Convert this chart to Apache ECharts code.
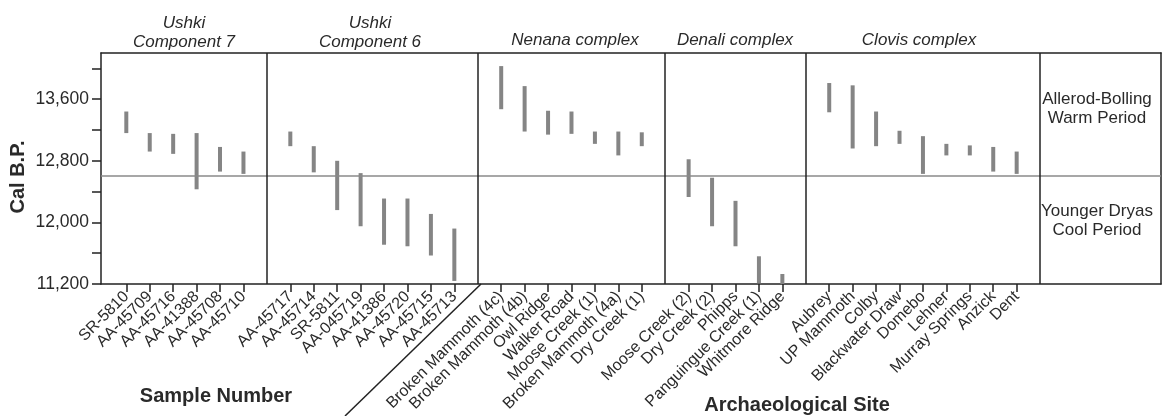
<!DOCTYPE html>
<html>
<head>
<meta charset="utf-8">
<script src="https://cdn.jsdelivr.net/npm/echarts@6/dist/echarts.min.js"></script>
<style>
html,body{margin:0;padding:0;background:#fff;}
#chart{width:1168px;height:416px;}
</style>
</head>
<body>
<div id="chart"></div>
<script>
// ---- data ----
const groupTitles = ['Ushki\nComponent 7', 'Ushki\nComponent 6', 'Nenana complex', 'Denali complex', 'Clovis complex'];

const ushki7Names = ['SR-5810', 'AA-45709', 'AA-45716', 'AA-41388', 'AA-45708', 'AA-45710'];
const ushki7High  = [13440, 13160, 13150, 13160, 12980, 12920];
const ushki7Low   = [13160, 12920, 12890, 12430, 12660, 12630];

const ushki6Names = ['AA-45717', 'AA-45714', 'SR-5811', 'AA-045719', 'AA-41386', 'AA-45720', 'AA-45715', 'AA-45713'];
const ushki6High  = [13180, 12990, 12800, 12640, 12310, 12310, 12110, 11920];
const ushki6Low   = [12990, 12650, 12160, 11950, 11710, 11690, 11570, 11240];

const nenanaNames = ['Broken Mammoth (4c)', 'Broken Mammoth (4b)', 'Owl Ridge', 'Walker Road', 'Moose Creek (1)', 'Broken Mammoth (4a)', 'Dry Creek (1)'];
const nenanaHigh  = [14030, 13770, 13450, 13440, 13180, 13180, 13170];
const nenanaLow   = [13470, 13180, 13140, 13150, 13020, 12870, 12990];

const denaliNames = ['Moose Creek (2)', 'Dry Creek (2)', 'Phipps', 'Panguingue Creek (1)', 'Whitmore Ridge'];
const denaliHigh  = [12820, 12580, 12280, 11560, 11330];
const denaliLow   = [12330, 11950, 11690, 11210, 11200];

const clovisNames = ['Aubrey', 'UP Mammoth', 'Colby', 'Blackwater Draw', 'Domebo', 'Lehner', 'Murray Springs', 'Anzick', 'Dent'];
const clovisHigh  = [13810, 13780, 13440, 13190, 13120, 13020, 13000, 12980, 12920];
const clovisLow   = [13430, 12960, 12990, 13020, 12630, 12870, 12870, 12660, 12630];

const boundaryYear = 12600;
const yTickValues  = [11200, 11600, 12000, 12400, 12800, 13200, 13600, 14000];
const yLabelValues = [11200, 12000, 12800, 13600];
const periodLabels = ['Allerod-Bolling\nWarm Period', 'Younger Dryas\nCool Period'];

// ---- build ----
const groups = [
  [ushki7Names, ushki7High, ushki7Low],
  [ushki6Names, ushki6High, ushki6Low],
  [nenanaNames, nenanaHigh, nenanaLow],
  [denaliNames, denaliHigh, denaliLow],
  [clovisNames, clovisHigh, clovisLow]
];
const rangeData = [];
const slotNames = {};
const slotList = [];
const dividers = [];
let slot = 1;
groups.forEach(([names, hi, lo], g) => {
  if (g > 0) dividers.push(slot - 1);
  names.forEach((n, i) => {
    rangeData.push([slot, lo[i], hi[i]]);
    slotNames[slot] = n;
    slotList.push(slot);
    slot++;
  });
  slot++;
});
dividers.push(slot - 1);

const FONT = '"Liberation Sans", Arial, Helvetica, sans-serif';
const TXT = '#2a2a2a';

const chart = echarts.init(document.getElementById('chart'));
const option = {
  animation: false,
  backgroundColor: '#fff',
  grid: { left: 101, right: 7, top: 53, bottom: 132, show: false },
  xAxis: [{
    type: 'value', min: -0.08, max: 45.16,
    splitLine: { show: false },
    axisLine: { show: true, onZero: false, lineStyle: { color: '#222', width: 1.5 } },
    axisTick: { show: true, customValues: slotList, length: 8, lineStyle: { color: '#222', width: 1.5 } },
    axisLabel: {
      customValues: slotList, rotate: 45, margin: 10,
      fontSize: 16, fontFamily: FONT, color: TXT,
      formatter: v => slotNames[Math.round(v)] || ''
    }
  }, {
    type: 'value', min: -0.08, max: 45.16, position: 'top',
    splitLine: { show: false },
    axisLine: { show: true, onZero: false, lineStyle: { color: '#222', width: 1.5 } },
    axisTick: { show: false }, axisLabel: { show: false }
  }],
  yAxis: [{
    type: 'value', min: 11200, max: 14200,
    splitLine: { show: false },
    axisLine: { show: true, onZero: false, lineStyle: { color: '#222', width: 1.5 } },
    axisTick: { show: true, customValues: yTickValues, length: 9, lineStyle: { color: '#222', width: 1.5 } },
    axisLabel: {
      customValues: yLabelValues, margin: 12, fontSize: 17.5, fontFamily: FONT, color: TXT,
      formatter: v => v.toLocaleString('en-US')
    }
  }, {
    type: 'value', min: 11200, max: 14200, position: 'right',
    splitLine: { show: false },
    axisLine: { show: true, onZero: false, lineStyle: { color: '#222', width: 1.5 } },
    axisTick: { show: false }, axisLabel: { show: false }
  }],
  series: [{
    type: 'custom',
    data: rangeData,
    renderItem: (params, api) => {
      const top = api.coord([api.value(0), api.value(2)]);
      const bot = api.coord([api.value(0), api.value(1)]);
      return { type: 'rect', shape: { x: top[0] - 2, y: top[1], width: 4, height: bot[1] - top[1] }, style: { fill: '#858585' } };
    },
    markLine: {
      silent: true, symbol: 'none', label: { show: false },
      data: [{ yAxis: boundaryYear, lineStyle: { color: '#8a8a8a', width: 1.5, type: 'solid' } }]
        .concat(dividers.map(d => ({ xAxis: d, lineStyle: { color: '#222', width: 1.5, type: 'solid' } })))
    }
  }],
  graphic: [
    { type: 'text', x: 18, y: 177, rotation: Math.PI / 2,
      style: { text: 'Cal B.P.', font: 'bold 20px ' + FONT, fill: TXT, align: 'center', verticalAlign: 'middle' } },
    { type: 'text', x: 216, y: 396, style: { text: 'Sample Number', font: 'bold 20px ' + FONT, fill: TXT, align: 'center', verticalAlign: 'middle' } },
    { type: 'text', x: 797, y: 405, style: { text: 'Archaeological Site', font: 'bold 20px ' + FONT, fill: TXT, align: 'center', verticalAlign: 'middle' } },
    { type: 'line', shape: { x1: 481, y1: 284, x2: 345, y2: 416 }, style: { stroke: '#222', lineWidth: 1.5 } },
    { type: 'text', x: 184, y: 33, style: { text: groupTitles[0], font: 'italic 17px ' + FONT, fill: TXT, align: 'center', verticalAlign: 'middle', lineHeight: 19 } },
    { type: 'text', x: 370, y: 33, style: { text: groupTitles[1], font: 'italic 17px ' + FONT, fill: TXT, align: 'center', verticalAlign: 'middle', lineHeight: 19 } },
    { type: 'text', x: 575, y: 40, style: { text: groupTitles[2], font: 'italic 17px ' + FONT, fill: TXT, align: 'center', verticalAlign: 'middle' } },
    { type: 'text', x: 735, y: 40, style: { text: groupTitles[3], font: 'italic 17px ' + FONT, fill: TXT, align: 'center', verticalAlign: 'middle' } },
    { type: 'text', x: 919, y: 40, style: { text: groupTitles[4], font: 'italic 17px ' + FONT, fill: TXT, align: 'center', verticalAlign: 'middle' } },
    { type: 'text', x: 1097, y: 109, style: { text: periodLabels[0], font: '17px ' + FONT, fill: TXT, align: 'center', verticalAlign: 'middle', lineHeight: 19 } },
    { type: 'text', x: 1097, y: 221, style: { text: periodLabels[1], font: '17px ' + FONT, fill: TXT, align: 'center', verticalAlign: 'middle', lineHeight: 19 } }
  ]
};
chart.setOption(option);
</script>
</body>
</html>
